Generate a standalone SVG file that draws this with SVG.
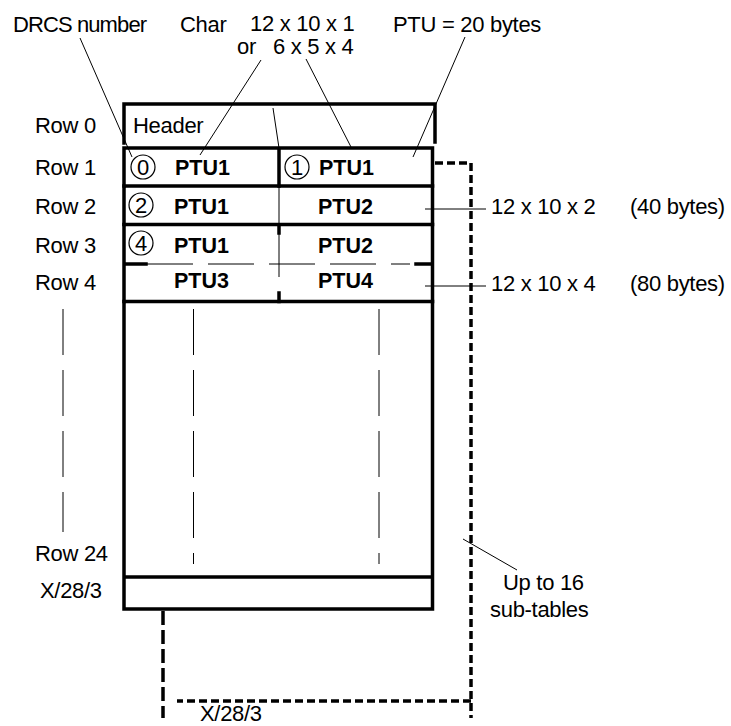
<svg xmlns="http://www.w3.org/2000/svg" width="731" height="726" viewBox="0 0 731 726">
<style>
text{font-family:"Liberation Sans",Arial,sans-serif;font-size:22px;letter-spacing:-0.3px;fill:#000}
.b{font-weight:bold;font-size:21.5px;letter-spacing:0}
.m{text-anchor:middle;letter-spacing:0}
.thick{stroke:#000;stroke-width:3.5;fill:none;stroke-linecap:square}
.thin{stroke:#000;stroke-width:1;fill:none}
.dd{stroke:#000;stroke-width:1;fill:none;stroke-dasharray:46 15}
.sub{stroke:#000;stroke-width:3.5;fill:none;stroke-dasharray:8 4}
.circ{stroke:#000;stroke-width:1.2;fill:none}
</style>
<rect width="731" height="726" fill="#fff"/>
<g id="labels">
<text x="13" y="32" style="letter-spacing:-0.9px">DRCS number</text>
<text x="180" y="32">Char</text>
<text x="250" y="31">12 x 10 x 1</text>
<text x="237" y="54">or<tspan x="273">6 x 5 x 4</tspan></text>
<text x="393" y="32">PTU = 20 bytes</text>
<text x="35" y="133">Row 0</text>
<text x="35" y="175">Row 1</text>
<text x="35" y="214">Row 2</text>
<text x="35" y="253">Row 3</text>
<text x="35" y="290">Row 4</text>
<text x="35" y="561">Row 24</text>
<text x="40" y="598">X/28/3</text>
</g>
<g id="header">
<path class="thick" d="M124,143 V104 H435 V142"/>
<text x="133" y="133">Header</text>
</g>
<g id="row1">
<path class="thick" d="M124,148 H432.5 V186 M124,148 V186 M279,148 V186"/>
<circle class="circ" cx="143" cy="167" r="12"/>
<text class="m" x="143" y="175">0</text>
<text class="b" x="175" y="175">PTU1</text>
<circle class="circ" cx="297" cy="167" r="12"/>
<text class="m" x="297" y="175">1</text>
<text class="b" x="319" y="175">PTU1</text>
</g>
<g id="row2">
<path class="thick" d="M124,186 H432.5 V224.5 M124,186 V224.5"/>
<path class="thin" d="M279,186 V224.5"/>
<circle class="circ" cx="141" cy="205" r="12"/>
<text class="m" x="141" y="213">2</text>
<text class="b" x="174" y="214">PTU1</text>
<text class="b" x="318" y="214">PTU2</text>
</g>
<g id="row3-4">
<path class="thick" d="M124,224.5 H432.5 V301.5 M124,224.5 V301.5 M279,224.5 V233 M279,293 V301.5 M124,264 H146 M416,264 H432.5"/>
<path class="thin" d="M279,233 V277"/>
<path class="dd" d="M147,264 H410"/>
<circle class="circ" cx="141" cy="243" r="12"/>
<text class="m" x="141" y="251">4</text>
<text class="b" x="174" y="253">PTU1</text>
<text class="b" x="318" y="253">PTU2</text>
<text class="b" x="174" y="288">PTU3</text>
<text class="b" x="318" y="288">PTU4</text>
</g>
<g id="body">
<path class="thick" d="M124,301.5 H432.5 V609 H124 Z M124,577 H432.5"/>
<path class="dd" d="M193.5,309 V564"/>
<path class="dd" d="M379,309 V564"/>
<path class="dd" d="M63,309 V532"/>
</g>
<g id="subtables">
<path class="sub" d="M435,163 H471 V718"/>
<path class="sub" d="M471,701 H177"/>
<path class="sub" d="M163,611 V718" style="stroke-dasharray:14 5"/>
<text x="503" y="590">Up to 16</text>
<text x="490" y="617">sub-tables</text>
<text x="200" y="721">X/28/3</text>
</g>
<g id="sizes">
<text x="491" y="214">12 x 10 x 2</text>
<text x="630" y="214">(40 bytes)</text>
<text x="491" y="291">12 x 10 x 4</text>
<text x="630" y="291">(80 bytes)</text>
</g>
<g id="connectors">
<path class="thin" d="M80,38 L132,157"/>
<path class="thin" d="M261,60 L200,155"/>
<path class="thin" d="M306,59 L351,147"/>
<path class="thin" d="M465,37 L413,157"/>
<path class="thin" d="M273,108 L279,148"/>
<path class="thin" d="M425,209 H486"/>
<path class="thin" d="M425,286 H486"/>
<path class="thin" d="M463,539 L517,570"/>
</g>
</svg>
